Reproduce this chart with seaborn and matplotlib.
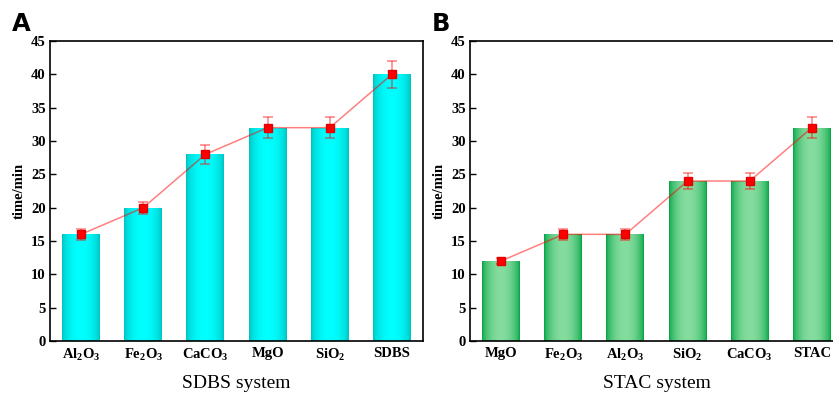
import numpy as np
import pandas as pd
import matplotlib
matplotlib.use("Agg")
import matplotlib.pyplot as plt
import seaborn as sns
from matplotlib.colors import to_rgb

# ---- data ----
cats_a = [r"Al$_2$O$_3$", r"Fe$_2$O$_3$", r"CaCO$_3$", "MgO", r"SiO$_2$", "SDBS"]
time_a = [16, 20, 28, 32, 32, 40]
err_a = [0.8, 0.9, 1.4, 1.6, 1.6, 2.0]

cats_b = ["MgO", r"Fe$_2$O$_3$", r"Al$_2$O$_3$", r"SiO$_2$", r"CaCO$_3$", "STAC"]
time_b = [12, 16, 16, 24, 24, 32]
err_b = [0.5, 0.8, 0.8, 1.2, 1.2, 1.6]

yticks = [0, 5, 10, 15, 20, 25, 30, 35, 40, 45]

sns.set_style("ticks")
plt.rcParams["font.family"] = ["Liberation Serif", "DejaVu Serif"]
plt.rcParams["mathtext.fontset"] = "custom"
plt.rcParams["mathtext.rm"] = "Liberation Serif:bold"
plt.rcParams["mathtext.bf"] = "Liberation Serif:bold"
plt.rcParams["mathtext.it"] = "Liberation Serif:bold"
plt.rcParams["mathtext.default"] = "rm"
for k in ["text.color", "axes.labelcolor", "xtick.color", "ytick.color",
          "xtick.labelcolor", "ytick.labelcolor", "axes.edgecolor"]:
    plt.rcParams[k] = "black"

W, H = 833, 396
fig = plt.figure(figsize=(W / 100, H / 100), dpi=100)
axA = fig.add_axes([50 / W, (H - 341) / H, 373 / W, 300 / H])
axB = fig.add_axes([470 / W, (H - 341) / H, 373 / W, 300 / H])


def gradient_bars(ax, edge, center):
    e = np.array(to_rgb(edge))
    c = np.array(to_rgb(center))
    t = np.linspace(0, 1, 64)
    f = np.sin(np.pi * t) ** 0.6
    img = e[None, :] + (c - e)[None, :] * f[:, None]
    img = img[None, :, :]
    for p in list(ax.patches):
        x0, y0 = p.get_x(), p.get_y()
        w, h = p.get_width(), p.get_height()
        im = ax.imshow(img, extent=[x0, x0 + w, y0, y0 + h], aspect="auto",
                       interpolation="bilinear", zorder=2)
        im.set_clip_path(p)


def panel(ax, cats, vals, errs, xlabel, letter, edge, center):
    df = pd.DataFrame({"cat": cats, "time": vals})
    sns.barplot(data=df, x="cat", y="time", ax=ax, color=center, width=0.61,
                linewidth=0, saturation=1, zorder=2)
    gradient_bars(ax, edge, center)
    xs = [p.get_x() + p.get_width() / 2 for p in ax.patches]
    ax.plot(xs, vals, color=(1, 0, 0, 0.5), lw=1.1, zorder=4)
    ax.errorbar(xs, vals, yerr=errs, fmt="none", ecolor=(1, 0, 0, 0.5),
                elinewidth=1.1, capsize=3.5, capthick=1.1, zorder=4)
    ax.plot(xs, vals, ls="none", marker="s", ms=5.5, color="#ff0000",
            mec="#e00000", zorder=5)
    ax.set_xlim(-0.5, len(cats) - 0.5)
    ax.set_ylim(0, 45)
    ax.set_yticks(yticks)
    ax.set_yticklabels([str(v) for v in yticks], fontsize=10.5, fontweight="bold")
    ax.tick_params(axis="y", direction="in", length=4, width=1, pad=3)
    ax.tick_params(axis="x", length=0, pad=4)
    for lab in ax.get_xticklabels():
        lab.set_fontsize(10.5)
        lab.set_fontweight("bold")
    ax.set_xlabel(xlabel, fontsize=14, labelpad=9)
    ax.set_ylabel("time/min", fontsize=10.5, fontweight="bold", labelpad=4)
    for s in ax.spines.values():
        s.set_linewidth(1.2)
        s.set_color("black")
    ax.text(-0.103, 1.018, letter, transform=ax.transAxes, fontsize=17.5,
            fontweight="bold", family="DejaVu Sans", va="bottom", ha="left",
            color="black")


panel(axA, cats_a, time_a, err_a, "SDBS system", "A", "#00c0c0", "#00ffff")
panel(axB, cats_b, time_b, err_b, "STAC system", "B", "#00a443", "#85dc9f")

fig.savefig("out.png", dpi=100)
